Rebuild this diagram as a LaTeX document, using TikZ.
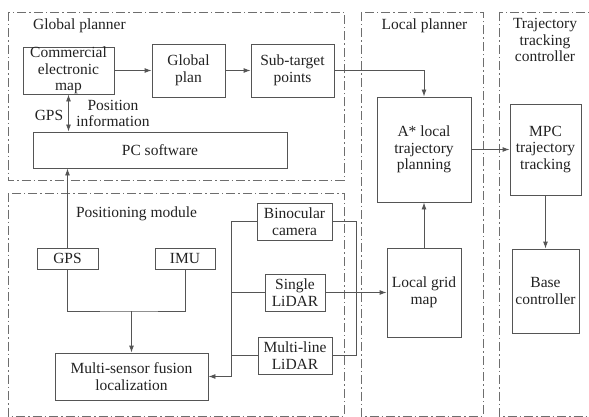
\documentclass[tikz,border=0pt]{standalone}
\usepackage{fontspec}
\setmainfont{Liberation Serif}
\usepackage{tikz}
\usetikzlibrary{arrows.meta,calc,positioning}

\definecolor{linegray}{HTML}{555555}
\definecolor{framegray}{HTML}{6E6E6E}
\definecolor{txtgray}{HTML}{222222}

\tikzset{
	box/.style={draw=linegray, line width=0.9pt, align=center, inner sep=0pt, text=txtgray},
	frame/.style={draw=framegray, line width=0.8pt, dash pattern=on 9pt off 3pt on 1.5pt off 3pt},
	lbl/.style={align=center, text=txtgray, inner sep=0pt},
	conn/.style={draw=linegray, line width=0.9pt},
	arr/.style={conn, -{Latex[length=7pt,width=5pt]}},
}

\begin{document}
\begin{tikzpicture}[x=1pt, y=-1pt, font=\fontsize{15.5}{16.5}\selectfont]
		
		\useasboundingbox (0,0) rectangle (589,417);
		\clip (0,0) rectangle (589,417);
		
		% frames
		\draw[frame] (8,12) rectangle (344,180);
		\draw[frame] (8,193) rectangle (344,416);
		\draw[frame] (361,12) rectangle (483,416);
		\draw[frame] (499,12) rectangle (600,416);
		
		\node[lbl] (tglob) at (79.5,26) {Global planner};
		\node[lbl] (tpos) at (136.5,214) {Positioning module};
		\node[lbl] (tloc) at (424.5,26) {Local planner};
		\node[lbl] (ttrk) at (545,40) {Trajectory\\tracking\\controller};
		
		% global planner
		\node[box, minimum width=91, minimum height=47] (map) at (68.5,70.5) {Commercial\\electronic\\map};
		\node[box, minimum width=73, minimum height=53] (gplan) at (188.5,70.5) {Global\\plan};
		\node[box, minimum width=83, minimum height=53] (subt) at (292.5,70.5) {Sub-target\\points};
		\node[box, minimum width=254, minimum height=36] (pc) at (160,150) {PC software};
		
		\node[lbl] (lgps) at (49,115) {GPS};
		\node[lbl] (lpos) at (113,113.5) {Position\\information};
		
		% positioning module
		\node[box, minimum width=61, minimum height=21] (gps) at (67.5,258.5) {GPS};
		\node[box, minimum width=60, minimum height=21] (imu) at (185,258.5) {IMU};
		\node[box, minimum width=153, minimum height=47] (fusion) at (131.5,376.5) {Multi-sensor fusion\\localization};
		
		\node[box, minimum width=75, minimum height=37] (bino) at (294.5,221.5) {Binocular\\camera};
		\node[box, minimum width=60, minimum height=37] (single) at (295,292.5) {Single\\LiDAR};
		\node[box, minimum width=74, minimum height=37] (multi) at (295,355.5) {Multi-line\\LiDAR};
		
		% local planner and controller
		\node[box, minimum width=94, minimum height=105] (astar) at (424,149.5) {A* local\\trajectory\\planning};
		\node[box, minimum width=74, minimum height=89] (grid) at (424,292.5) {Local grid\\map};
		\node[box, minimum width=71, minimum height=91] (mpc) at (545.5,149.5) {MPC\\trajectory\\tracking};
		\node[box, minimum width=67, minimum height=84] (base) at (545.5,291) {Base\\controller};
		
		\coordinate (join) at (131.5,311);
		\coordinate (busl) at (231,376.5);
		\coordinate (busr) at (356,0);
		
		% connectors
		\draw[arr] (map) -- (gplan);
		\draw[arr] (gplan) -- (subt);
		\draw[arr] (subt.east) -| (astar.north);
		\draw[arr, {Latex[length=7pt,width=5pt]}-{Latex[length=7pt,width=5pt]}] (map.south) -- (map.south |- pc.north);
		\draw[arr] (gps.north) -- (gps.north |- pc.south);
		
		\draw[conn] (gps.south) |- (join) -| (imu.south);
		\draw[arr] (join) -- (fusion.north);
		
		\draw[arr] (bino.west) -| (busl) -- (fusion.east);
		\draw[conn] (single.west) -- (single.west -| busl);
		\draw[conn] (multi.west) -- (multi.west -| busl);
		\draw[conn] (bino.east) -| (busr |- multi.east) -- (multi.east);
		\draw[arr] (single.east) -- (grid.west);
		
		\draw[arr] (grid) -- (astar);
		\draw[arr] (astar) -- (mpc);
		\draw[arr] (mpc) -- (base);
	\end{tikzpicture}
\end{document}
